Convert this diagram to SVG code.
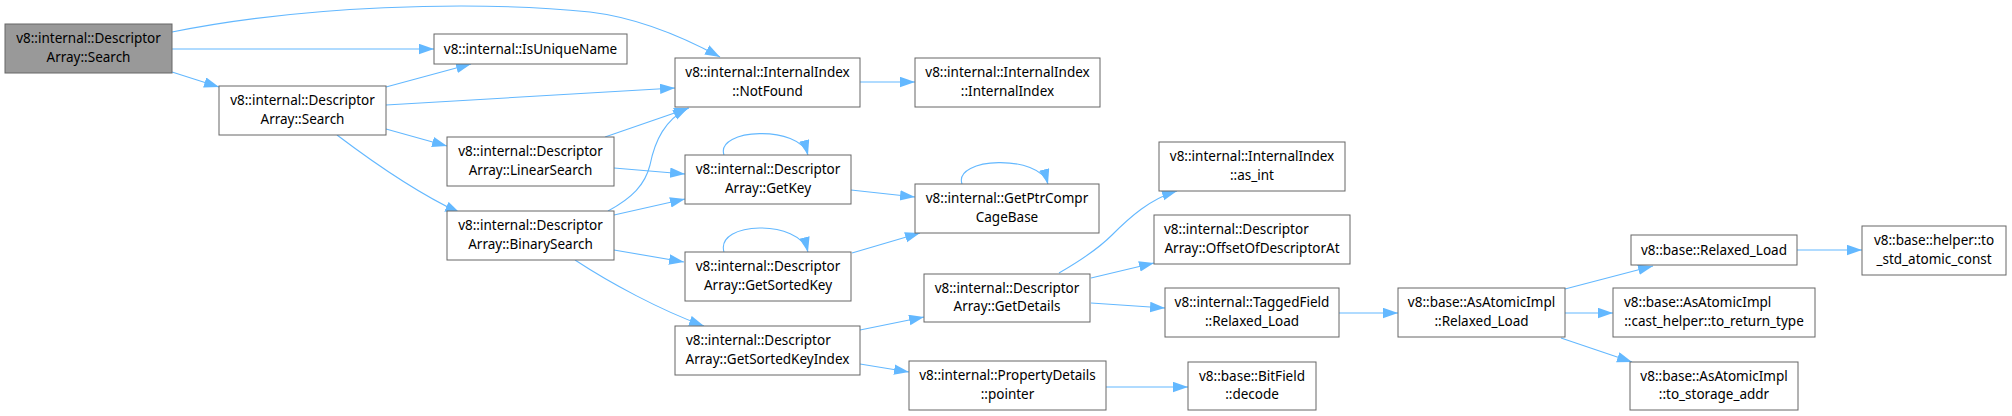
<svg xmlns="http://www.w3.org/2000/svg" width="2012" height="416" viewBox="0 0 2012 416">
<style>
.bg{fill:#ffffff}
.node rect{fill:#ffffff;stroke:#666666;stroke-width:1}
.node.root rect{fill:#999999}
.node text{font-family:"Noto Sans","DejaVu Sans",sans-serif;font-size:13.5px;fill:#000000;text-anchor:middle}
.node text.l{text-anchor:start}
.edges path{fill:none;stroke:#63b8ff;stroke-width:1.1}
</style>
<defs>
<marker id="ah" markerUnits="userSpaceOnUse" markerWidth="16" markerHeight="12" refX="15" refY="5.25" orient="auto">
<path d="M0,0 L15,5.25 L0,10.5 z" fill="#63b8ff" stroke="none"/>
</marker>
</defs>
<rect class="bg" x="0" y="0" width="2012" height="416"/>
<g class="edges">
<path d="M172,32 C300,6 470,0 590,12 C640,18 685,38 720,57" marker-end="url(#ah)"/>
<path d="M172,49 L434,49" marker-end="url(#ah)"/>
<path d="M172,72 L219,87" marker-end="url(#ah)"/>
<path d="M386,87 L471,64" marker-end="url(#ah)"/>
<path d="M386,105 L675,88" marker-end="url(#ah)"/>
<path d="M386,129 L447,146" marker-end="url(#ah)"/>
<path d="M337,135 C370,160 415,192 460,213" marker-end="url(#ah)"/>
<path d="M605,137 L689,108" marker-end="url(#ah)"/>
<path d="M614,168 L685,174" marker-end="url(#ah)"/>
<path d="M608,211 C632,198 645,185 650,165 C655,140 665,120 688,108" marker-end="url(#ah)"/>
<path d="M614,215 L685,199" marker-end="url(#ah)"/>
<path d="M614,250 L684,262" marker-end="url(#ah)"/>
<path d="M575,260 C610,283 660,310 704,326" marker-end="url(#ah)"/>
<path d="M724,155 C715,128 800,125 808,155" marker-end="url(#ah)"/>
<path d="M962,184 C953,157 1040,154 1048,184" marker-end="url(#ah)"/>
<path d="M724,252 C715,221 800,219 808,252" marker-end="url(#ah)"/>
<path d="M851,190 L915,197" marker-end="url(#ah)"/>
<path d="M852,253 L920,233" marker-end="url(#ah)"/>
<path d="M860,330 L924,317" marker-end="url(#ah)"/>
<path d="M860,364 L909,372" marker-end="url(#ah)"/>
<path d="M1059,273 C1085,258 1100,247 1112,235 C1130,217 1150,199 1177,191" marker-end="url(#ah)"/>
<path d="M1091,278 L1154,263" marker-end="url(#ah)"/>
<path d="M1091,303 L1165,308" marker-end="url(#ah)"/>
<path d="M1106,387 L1188,387" marker-end="url(#ah)"/>
<path d="M1339,313 L1398,313" marker-end="url(#ah)"/>
<path d="M1565,289 L1653,266" marker-end="url(#ah)"/>
<path d="M1565,313 L1613,313" marker-end="url(#ah)"/>
<path d="M1561,338 L1632,362" marker-end="url(#ah)"/>
<path d="M1797,250 L1862,250" marker-end="url(#ah)"/>
<path d="M860,82 L915,82" marker-end="url(#ah)"/>
</g>
<g id="n_root" class="node root"><rect x="5" y="24" width="167" height="49"/><text x="88.5" y="43">v8::internal::Descriptor</text><text x="88.5" y="61.5">Array::Search</text></g>
<g id="n_isunique" class="node"><rect x="434" y="34" width="193" height="30"/><text x="530.5" y="53.5">v8::internal::IsUniqueName</text></g>
<g id="n_search" class="node"><rect x="219" y="86" width="167" height="49"/><text x="302.5" y="105">v8::internal::Descriptor</text><text x="302.5" y="123.5">Array::Search</text></g>
<g id="n_notfound" class="node"><rect x="675" y="58" width="185" height="49"/><text x="767.5" y="77">v8::internal::InternalIndex</text><text x="767.5" y="95.5">::NotFound</text></g>
<g id="n_intidx" class="node"><rect x="915" y="58" width="185" height="49"/><text x="1007.5" y="77">v8::internal::InternalIndex</text><text x="1007.5" y="95.5">::InternalIndex</text></g>
<g id="n_linear" class="node"><rect x="447" y="137" width="167" height="49"/><text x="530.5" y="156">v8::internal::Descriptor</text><text x="530.5" y="174.5">Array::LinearSearch</text></g>
<g id="n_binary" class="node"><rect x="447" y="211" width="167" height="49"/><text x="530.5" y="230">v8::internal::Descriptor</text><text x="530.5" y="248.5">Array::BinarySearch</text></g>
<g id="n_getkey" class="node"><rect x="685" y="155" width="166" height="49"/><text x="768" y="174">v8::internal::Descriptor</text><text x="768" y="192.5">Array::GetKey</text></g>
<g id="n_ptr" class="node"><rect x="915" y="184" width="184" height="49"/><text x="1007" y="203">v8::internal::GetPtrCompr</text><text x="1007" y="221.5">CageBase</text></g>
<g id="n_sortedkey" class="node"><rect x="685" y="252" width="166" height="49"/><text x="768" y="271">v8::internal::Descriptor</text><text x="768" y="289.5">Array::GetSortedKey</text></g>
<g id="n_sortedkeyindex" class="node"><rect x="675" y="326" width="185" height="49"/><text class="l" x="686" y="345">v8::internal::Descriptor</text><text x="767.5" y="363.5">Array::GetSortedKeyIndex</text></g>
<g id="n_asint" class="node"><rect x="1159" y="142" width="186" height="49"/><text x="1252" y="161">v8::internal::InternalIndex</text><text x="1252" y="179.5">::as_int</text></g>
<g id="n_offset" class="node"><rect x="1154" y="215" width="196" height="49"/><text class="l" x="1164" y="234">v8::internal::Descriptor</text><text x="1252" y="252.5">Array::OffsetOfDescriptorAt</text></g>
<g id="n_details" class="node"><rect x="924" y="274" width="166" height="48"/><text x="1007" y="292.5">v8::internal::Descriptor</text><text x="1007" y="311">Array::GetDetails</text></g>
<g id="n_tagged" class="node"><rect x="1165" y="288" width="174" height="49"/><text x="1252" y="307">v8::internal::TaggedField</text><text x="1252" y="325.5">::Relaxed_Load</text></g>
<g id="n_propdetails" class="node"><rect x="909" y="361" width="197" height="49"/><text x="1007.5" y="380">v8::internal::PropertyDetails</text><text x="1007.5" y="398.5">::pointer</text></g>
<g id="n_bitfield" class="node"><rect x="1188" y="362" width="128" height="48"/><text x="1252" y="380.5">v8::base::BitField</text><text x="1252" y="399">::decode</text></g>
<g id="n_atomicload" class="node"><rect x="1398" y="288" width="167" height="49"/><text x="1481.5" y="307">v8::base::AsAtomicImpl</text><text x="1481.5" y="325.5">::Relaxed_Load</text></g>
<g id="n_baseload" class="node"><rect x="1631" y="235" width="166" height="30"/><text x="1714" y="254.5">v8::base::Relaxed_Load</text></g>
<g id="n_returntype" class="node"><rect x="1613" y="288" width="202" height="49"/><text class="l" x="1624" y="307">v8::base::AsAtomicImpl</text><text x="1714" y="325.5">::cast_helper::to_return_type</text></g>
<g id="n_storage" class="node"><rect x="1630" y="362" width="168" height="48"/><text x="1714" y="380.5">v8::base::AsAtomicImpl</text><text x="1714" y="399">::to_storage_addr</text></g>
<g id="n_helper" class="node"><rect x="1862" y="226" width="144" height="49"/><text x="1934" y="245">v8::base::helper::to</text><text x="1934" y="263.5">_std_atomic_const</text></g>
</svg>
